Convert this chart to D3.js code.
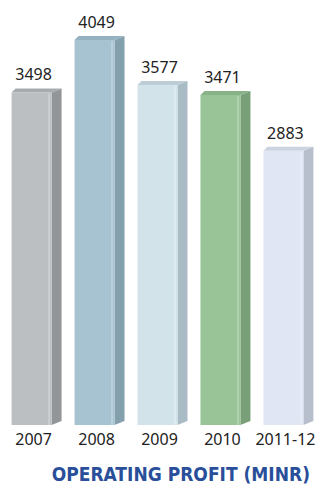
<!DOCTYPE html>
<html>
<head>
<meta charset="utf-8">
<script src="https://cdn.jsdelivr.net/npm/d3@7"></script>
<style>
  body { margin: 0; background: #fff; }
  svg { display: block; }
</style>
</head>
<body>
<svg id="chart" width="316" height="491"></svg>
<script>
// data
const years = ["2007", "2008", "2009", "2010", "2011-12"];
const profit = [3498, 4049, 3577, 3471, 2883];
const fronts = ["#bcbfc2", "#a7c3d2", "#d2e3ea", "#99c497", "#e0e6f4"];
const sides = ["#939698", "#84a0ad", "#a9bcc5", "#799f79", "#b7bfcc"];
const tops = ["#a8abae", "#95b2c0", "#bccdd5", "#88b287", "#cbd2e0"];

const base = 425, depthX = 10, depthY = 4;

const svg = d3.select("#chart");

const x = d3.scaleBand()
  .domain(years)
  .range([-1, 316])
  .paddingInner(0.365)
  .paddingOuter(0.2);

const y = d3.scaleLinear()
  .domain([0, 4049])
  .range([base, 40]);

const bw = x.bandwidth();

const g = svg.append("g");

const bars = g.selectAll(".bar")
  .data(years)
  .join("g")
  .attr("class", "bar");

// side face
bars.append("path")
  .attr("fill", (d, i) => sides[i])
  .attr("d", (d, i) => {
    const x0 = x(d) + bw, t = y(profit[i]);
    return `M${x0},${t} L${x0 + depthX},${t - depthY} L${x0 + depthX},${base - depthY} L${x0},${base} Z`;
  });

// top face
bars.append("path")
  .attr("fill", (d, i) => tops[i])
  .attr("d", (d, i) => {
    const x0 = x(d), t = y(profit[i]);
    return `M${x0},${t} L${x0 + 4},${t - depthY} L${x0 + bw + depthX},${t - depthY} L${x0 + bw},${t} Z`;
  });

// front face
bars.append("rect")
  .attr("x", d => x(d))
  .attr("y", (d, i) => y(profit[i]))
  .attr("width", bw)
  .attr("height", (d, i) => base - y(profit[i]))
  .attr("fill", (d, i) => fronts[i]);

// highlight line near right edge
bars.append("line")
  .attr("x1", d => x(d) + bw - 2.5)
  .attr("x2", d => x(d) + bw - 2.5)
  .attr("y1", (d, i) => y(profit[i]) + 1)
  .attr("y2", base)
  .attr("stroke", "#ffffff")
  .attr("stroke-opacity", 0.45)
  .attr("stroke-width", 1);

// value labels
bars.append("text")
  .attr("x", d => x(d) + bw / 2 + 2)
  .attr("y", (d, i) => y(profit[i]) - 12)
  .attr("text-anchor", "middle")
  .attr("font-family", "Noto Sans, sans-serif")
  .attr("font-size", 16)
  .attr("fill", "#222")
  .text((d, i) => profit[i]);

// category axis labels
const xAxis = g.append("g")
  .attr("transform", `translate(2,${base})`)
  .call(d3.axisBottom(x).tickSize(0).tickPadding(9));
xAxis.select(".domain").remove();
xAxis.selectAll("text")
  .attr("font-family", "Noto Sans, sans-serif")
  .attr("font-size", 16)
  .attr("fill", "#222");

// title
svg.append("text")
  .attr("x", 310)
  .attr("y", 481)
  .attr("text-anchor", "end")
  .attr("font-family", "DejaVu Sans Condensed, sans-serif")
  .attr("font-weight", "bold")
  .attr("font-size", 19)
  .attr("fill", "#2a4f9a")
  .text("OPERATING PROFIT (MINR)");
</script>
</body>
</html>
